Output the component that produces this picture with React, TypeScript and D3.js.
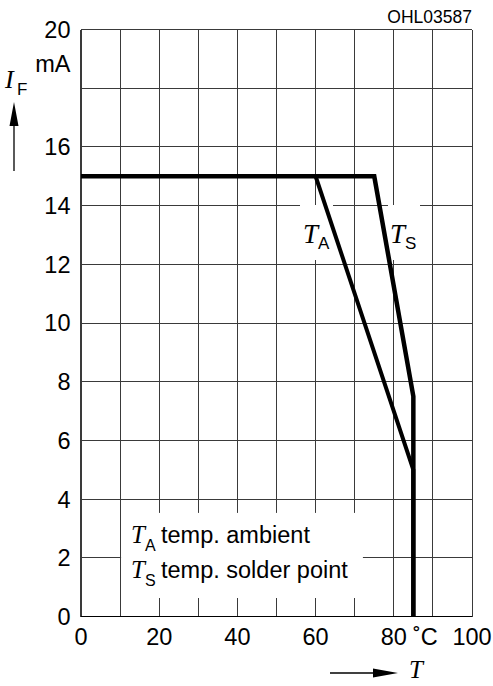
import React from "react";
import * as d3 from "d3";

// axis ticks / grid
const xTickLabels = [0, 20, 40, 60, 80, 100];
const xGridValues = [10, 20, 30, 40, 50, 60, 70, 80, 90];
const yTickLabels = [0, 2, 4, 6, 8, 10, 12, 14, 16, 20];
const yGridValues = [2, 4, 6, 8, 10, 12, 14, 16, 18];

// derating curves (T in °C, IF in mA)
const tsTemp = [0, 75, 85, 85];
const tsCurrent = [15, 15, 7.5, 0];
const taTemp = [60, 85, 85];
const taCurrent = [15, 5, 0];

const width = 493,
  height = 686;
const plotLeft = 81,
  plotRight = 472,
  plotTop = 29.5,
  plotBottom = 616.5;

const sans = "'Liberation Sans', Arial, Helvetica, sans-serif";
const serif = "'Liberation Serif', 'Times New Roman', serif";
const gridColor = "#3a3a3a";

export default function App() {
  const x = d3.scaleLinear().domain([0, 100]).range([plotLeft, plotRight]);
  const y = d3.scaleLinear().domain([0, 20]).range([plotBottom, plotTop]);

  const line = d3
    .line<[number, number]>()
    .x((d) => x(d[0]))
    .y((d) => y(d[1]));

  const tsPts = tsTemp.map((t, i) => [t, tsCurrent[i]] as [number, number]);
  const taPts = taTemp.map((t, i) => [t, taCurrent[i]] as [number, number]);

  // legend box (white, hides grid)
  const legX0 = x(10.25),
    legX1 = x(72.1),
    legY0 = y(3.53),
    legY1 = y(0.63);

  return (
    <svg
      width={width}
      height={height}
      style={{ position: "absolute", left: 0, top: 0, background: "#fff" }}
    >
      {/* grid */}
      <g stroke={gridColor} strokeWidth={1} shapeRendering="crispEdges">
        {xGridValues.map((v) => (
          <line key={"vx" + v} x1={x(v)} x2={x(v)} y1={plotTop} y2={plotBottom} />
        ))}
        {yGridValues.map((v) => (
          <line key={"hy" + v} x1={plotLeft} x2={plotRight} y1={y(v)} y2={y(v)} />
        ))}
      </g>

      {/* white patches behind labels */}
      <rect x={legX0} y={legY0} width={legX1 - legX0} height={legY1 - legY0} fill="#fff" />
      <rect x={300} y={205} width={33} height={55} fill="#fff" />
      <rect x={388} y={205} width={32} height={55} fill="#fff" />

      {/* frame */}
      <g fill="none" shapeRendering="crispEdges">
        <line x1={plotLeft} x2={plotRight} y1={plotTop} y2={plotTop} stroke={gridColor} strokeWidth={1} />
        <line x1={plotRight} x2={plotRight} y1={plotTop} y2={plotBottom} stroke={gridColor} strokeWidth={1} />
        <line x1={plotLeft} x2={plotLeft} y1={plotTop} y2={plotBottom} stroke={gridColor} strokeWidth={1.5} />
        <line x1={plotLeft} x2={plotRight} y1={plotBottom} y2={plotBottom} stroke="#000" strokeWidth={1.5} />
      </g>

      {/* curves */}
      <path d={line(tsPts) || ""} fill="none" stroke="#000" strokeWidth={4.5} strokeLinejoin="miter" />
      <path d={line(taPts) || ""} fill="none" stroke="#000" strokeWidth={4} strokeLinejoin="miter" />

      {/* curve labels */}
      <text x={303} y={243} fontFamily={serif} fontStyle="italic" fontSize={27}>T</text>
      <text x={318} y={249} fontFamily={sans} fontSize={17}>A</text>
      <text x={390} y={243} fontFamily={serif} fontStyle="italic" fontSize={27}>T</text>
      <text x={405} y={249} fontFamily={sans} fontSize={17}>S</text>

      {/* legend */}
      <text x={131} y={543} fontFamily={serif} fontStyle="italic" fontSize={25}>T</text>
      <text x={145} y={551} fontFamily={sans} fontSize={16}>A</text>
      <text x={161} y={543} fontFamily={sans} fontSize={23.5}>temp. ambient</text>
      <text x={131} y={578} fontFamily={serif} fontStyle="italic" fontSize={25}>T</text>
      <text x={145} y={586} fontFamily={sans} fontSize={16}>S</text>
      <text x={161} y={578} fontFamily={sans} fontSize={23.5}>temp. solder point</text>

      {/* y tick labels */}
      <g fontFamily={sans} fontSize={23.5} textAnchor="end">
        {yTickLabels.map((v) => (
          <text key={"yl" + v} x={70.5} y={y(v)} dy="0.36em">
            {v}
          </text>
        ))}
        <text x={70.5} y={72}>mA</text>
      </g>

      {/* x tick labels */}
      <g fontFamily={sans} fontSize={23.5} textAnchor="middle">
        {xTickLabels.map((v) => (
          <text key={"xl" + v} x={x(v)} y={645}>
            {v}
          </text>
        ))}
      </g>
      <text x={413} y={645} fontFamily={sans} fontSize={23.5}>˚C</text>

      {/* y axis title */}
      <text x={5} y={88} fontFamily={serif} fontStyle="italic" fontSize={26}>I</text>
      <text x={17} y={95} fontFamily={sans} fontSize={17}>F</text>
      <line x1={14} x2={14} y1={171} y2={122} stroke="#000" strokeWidth={1.3} />
      <path d="M14,102 L18.5,126 L9.5,126 Z" fill="#000" />

      {/* x axis title */}
      <line x1={330} x2={378} y1={673} y2={673} stroke="#000" strokeWidth={1.3} />
      <path d="M398,673 L373,668.5 L373,677.5 Z" fill="#000" />
      <text x={409} y={678} fontFamily={serif} fontStyle="italic" fontSize={25}>T</text>

      {/* drawing id */}
      <text x={472} y={23} fontFamily={sans} fontSize={17.5} textAnchor="end">OHL03587</text>
    </svg>
  );
}
